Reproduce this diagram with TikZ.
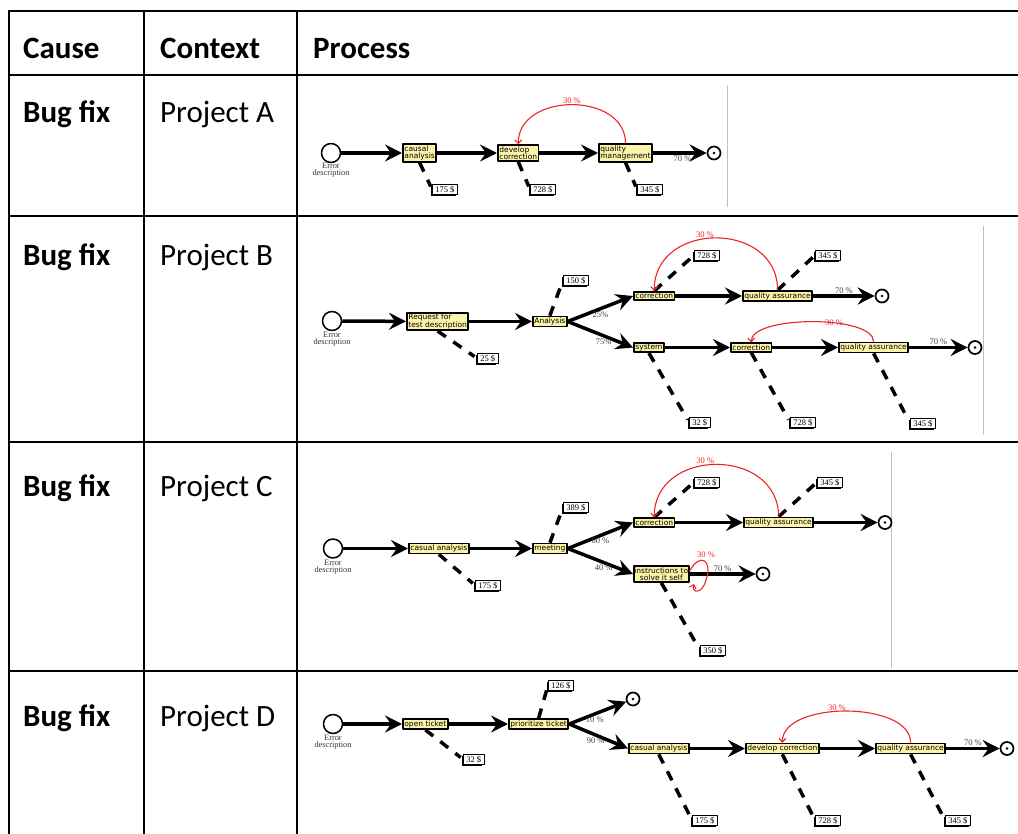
\documentclass[tikz,border=0pt]{standalone}
\usepackage{fontspec}
\setmainfont{Carlito}
\newfontfamily\boxfont{DejaVu Sans}
\newfontfamily\notefont{Liberation Serif}
\usetikzlibrary{arrows.meta,shadows}
\definecolor{actfill}{RGB}{252,244,170}
\definecolor{loopred}{RGB}{240,35,35}
\begin{document}
\begin{tikzpicture}[x=1pt, y=-1pt, line join=round,
	act/.style={draw, line width=1.8pt, fill=actfill, font=\boxfont\fontsize{7.5}{7.5}\selectfont, align=left, inner xsep=1.5pt, inner ysep=1.3pt, anchor=west},
	cost/.style={draw, line width=0.7pt, fill=white, font=\notefont\fontsize{8.5}{9}\selectfont, inner xsep=3pt, inner ysep=1.5pt, anchor=north west, drop shadow={shadow xshift=-1.8pt, shadow yshift=-1.8pt, opacity=1, fill=black}},
	startev/.style={circle, draw, line width=1.5pt, minimum size=19pt, inner sep=0pt},
	endev/.style={circle, draw, line width=1.7pt, minimum size=13pt, inner sep=0pt, path picture={\fill (path picture bounding box.center) circle (1.4pt);}},
	flow/.style={line width=3.5pt, -{Stealth[length=17pt, width=17pt, inset=6pt]}},
	costline/.style={line width=3.5pt, dash pattern=on 10pt off 9pt, shorten >=3pt},
	rework/.style={loopred, line width=1.1pt, -{Straight Barb[length=3.5pt, width=7pt]}},
	pct/.style={font=\notefont\fontsize{8.5}{9}\selectfont, text=black!75, inner sep=1pt},
	err/.style={font=\notefont\fontsize{8.3}{7}\selectfont, align=center, inner sep=0pt, text=black!80, anchor=north},
	head/.style={font=\fontsize{31}{31}\selectfont\bfseries, anchor=base west, inner sep=0pt},
	cell/.style={font=\fontsize{31}{31}\selectfont, anchor=base west, inner sep=0pt},
	imgedge/.style={black!25, line width=0.8pt}]
	\useasboundingbox (0,0) rectangle (1018,834);
	% table
	\foreach \y in {11,75,216,442,671}
	\draw[line width=2pt, line cap=rect] (8.5,\y) -- (1018,\y);
	\foreach \x in {8.5,144,297}
	\draw[line width=2pt, line cap=rect] (\x,11) -- (\x,834);
	\node[head] (hcause) at (23,59) {Cause};
	\node[head] (hctx) at (160,59) {Context};
	\node[head] (hproc) at (313,59) {Process};
	\foreach \y/\p in {123/A,266/B,496/C,726/D} {
		\node[head] (cause\p) at (23,\y) {Bug fix};
		\node[cell] (ctx\p) at (160,\y) {Project \p};
	}
	
	% project A
	\draw[imgedge] (727,85) -- (727,207);
	\node[startev] (stA) at (331,153) {};
	\node[err] (erA) at (331,163) {Error\\description};
	\node[act] (caA) at (402,153) {causal\\analysis};
	\node[act] (dvA) at (497,153) {develop\\correction};
	\node[act] (qmA) at (598,153) {quality\\management};
	\node[endev] (enA) at (714,153) {};
	\draw[flow] (stA) -- (caA);
	\draw[flow] (caA) -- (dvA);
	\draw[flow] (dvA) -- (qmA);
	\draw[flow] (qmA) -- node[pct, below, pos=0.55] (p70A) {70 \%} (enA);
	\node[cost] (c1A) at (432,184) {175 \$};
	\node[cost] (c2A) at (530,184) {728 \$};
	\node[cost] (c3A) at (637,184) {345 \$};
	\draw[costline] (caA.south) -- (c1A.west);
	\draw[costline] (dvA.south) -- (c2A.west);
	\draw[costline] (qmA.south) -- (c3A.west);
	\draw[rework] (qmA.north) .. controls +(0,-52) and +(0,-52) .. node[pct, text=loopred, above, pos=0.5] (l30A) {30 \%} (dvA.north);
	
	% project B
	\draw[imgedge] (983,226) -- (983,435);
	\node[startev] (stB) at (332,321) {};
	\node[err] (erB) at (332,332) {Error\\description};
	\node[act] (rqB) at (406,321.5) {Request for\\test description};
	\node[act] (anB) at (532,321.5) {Analysis};
	\node[act] (co1B) at (633,296) {correction};
	\node[act] (qa1B) at (742,296) {quality assurance};
	\node[endev] (en1B) at (882,296) {};
	\node[act] (syB) at (633,347.5) {system};
	\node[act] (co2B) at (730,347.5) {correction};
	\node[act] (qa2B) at (838,347.5) {quality assurance};
	\node[endev] (en2B) at (975,347.5) {};
	\draw[flow] (stB) -- (rqB);
	\draw[flow] (rqB) -- (anB);
	\draw[flow] (anB.east) -- node[pct, below, pos=0.5] (p25B) {25\%} (co1B.west);
	\draw[flow] (anB.east) -- node[pct, below, pos=0.55] (p75B) {75\%} (syB.west);
	\draw[flow] (co1B) -- (qa1B);
	\draw[flow] (qa1B) -- node[pct, above, pos=0.5] (p70aB) {70 \%} (en1B);
	\draw[flow] (syB) -- (co2B);
	\draw[flow] (co2B) -- (qa2B);
	\draw[flow] (qa2B) -- node[pct, above, pos=0.5] (p70bB) {70 \%} (en2B);
	\node[cost] (c1B) at (477,353) {25 \$};
	\node[cost] (c2B) at (563,275) {150 \$};
	\node[cost] (c3B) at (694,250) {728 \$};
	\node[cost] (c4B) at (815,250) {345 \$};
	\node[cost] (c5B) at (689,417) {32 \$};
	\node[cost] (c6B) at (790,417) {728 \$};
	\node[cost] (c7B) at (910,418) {345 \$};
	\draw[costline] (rqB.south) -- (c1B.west);
	\draw[costline] (anB.north) -- (c2B.west);
	\draw[costline] (co1B.north) -- (c3B.west);
	\draw[costline] (qa1B.north) -- (c4B.west);
	\draw[costline] (syB.south) -- (c5B.west);
	\draw[costline] (co2B.south) -- (c6B.west);
	\draw[costline] (qa2B.south) -- (c7B.west);
	\draw[rework] (qa1B.north) .. controls +(0,-70) and +(0,-70) .. node[pct, text=loopred, above, pos=0.56] (l30aB) {30 \%} (co1B.north);
	\draw[rework] (qa2B.north) .. controls +(0,-27) and +(0,-27) .. node[pct, text=loopred, pos=0.38] (l30bB) {30 \%} (co2B.north);
	
	% project C
	\draw[imgedge] (891,452) -- (891,668);
	\node[startev] (stC) at (333,548.5) {};
	\node[err] (erC) at (333,560) {Error\\description};
	\node[act] (caC) at (408,548.5) {casual analysis};
	\node[act] (meC) at (532,548.5) {meeting};
	\node[act] (coC) at (633,522.5) {correction};
	\node[act] (qaC) at (743,522.5) {quality assurance};
	\node[endev] (enC) at (885,522.5) {};
	\node[act, align=center, inner xsep=0.5pt] (inC) at (633,574) {instructions to\\solve it self};
	\node[endev] (en2C) at (763,574) {};
	\draw[flow] (stC) -- (caC);
	\draw[flow] (caC) -- (meC);
	\draw[flow] (meC.east) -- node[pct, below, pos=0.5] (p60C) {60 \%} (coC.west);
	\draw[flow] (meC.east) -- node[pct, below, pos=0.55] (p40C) {40 \%} (inC.west);
	\draw[flow] (coC) -- (qaC);
	\draw[flow] (qaC) -- (enC);
	\draw[flow] (inC) -- node[pct, above, pos=0.5] (p70C) {70 \%} (en2C);
	\node[cost] (c1C) at (475,580) {175 \$};
	\node[cost] (c2C) at (563,502) {389 \$};
	\node[cost] (c3C) at (694,477) {728 \$};
	\node[cost] (c4C) at (817,477) {345 \$};
	\node[cost] (c5C) at (700,645) {350 \$};
	\draw[costline] (caC.south) -- (c1C.west);
	\draw[costline] (meC.north) -- (c2C.west);
	\draw[costline] (coC.north) -- (c3C.west);
	\draw[costline] (qaC.north) -- (c4C.west);
	\draw[costline] (inC.south) -- (c5C.west);
	\draw[rework] (qaC.north) .. controls +(0,-70) and +(0,-70) .. node[pct, text=loopred, above, pos=0.56] (l30aC) {30 \%} (coC.north);
	\coordinate (lpC) at (694,584);
	\draw[rework] ([yshift=3pt]inC.east) .. controls (700,552) and (713,560) .. (706,580) .. controls (702,595) and (691,593) .. (lpC);
	\node[pct, text=loopred] (l30bC) at (706,555) {30 \%};
	
	% project D
	\node[startev] (stD) at (333,724) {};
	\node[err] (erD) at (333,735) {Error\\description};
	\node[act] (otD) at (402,724) {open ticket};
	\node[act] (prD) at (508,724) {prioritize ticket};
	\node[endev] (en1D) at (633,699) {};
	\node[act] (caD) at (628,748.5) {casual analysis};
	\node[act] (dvD) at (745,748.5) {develop correction};
	\node[act] (qaD) at (875,748.5) {quality assurance};
	\node[endev] (en2D) at (1007,748.5) {};
	\draw[flow] (stD) -- (otD);
	\draw[flow] (otD) -- (prD);
	\draw[flow] (prD.east) -- node[pct, below, pos=0.45] (p10D) {10 \%} (en1D);
	\draw[flow] (prD.east) -- node[pct, below, pos=0.45] (p90D) {90 \%} (caD.west);
	\draw[flow] (caD) -- (dvD);
	\draw[flow] (dvD) -- (qaD);
	\draw[flow] (qaD) -- node[pct, above, pos=0.5] (p70D) {70 \%} (en2D);
	\node[cost] (c1D) at (463,754) {32 \$};
	\node[cost] (c2D) at (548,680) {126 \$};
	\node[cost] (c3D) at (692,815) {175 \$};
	\node[cost] (c4D) at (815,815) {728 \$};
	\node[cost] (c5D) at (945,815) {345 \$};
	\draw[costline] (otD.south) -- (c1D.west);
	\draw[costline] (prD.north) -- (c2D.west);
	\draw[costline] (caD.south) -- (c3D.west);
	\draw[costline] (dvD.south) -- (c4D.west);
	\draw[costline] (qaD.south) -- (c5D.west);
	\draw[rework] (qaD.north) .. controls +(0,-42) and +(0,-42) .. node[pct, text=loopred, above, pos=0.55, inner sep=0pt] (l30D) {30 \%} (dvD.north);
\end{tikzpicture}
\end{document}
